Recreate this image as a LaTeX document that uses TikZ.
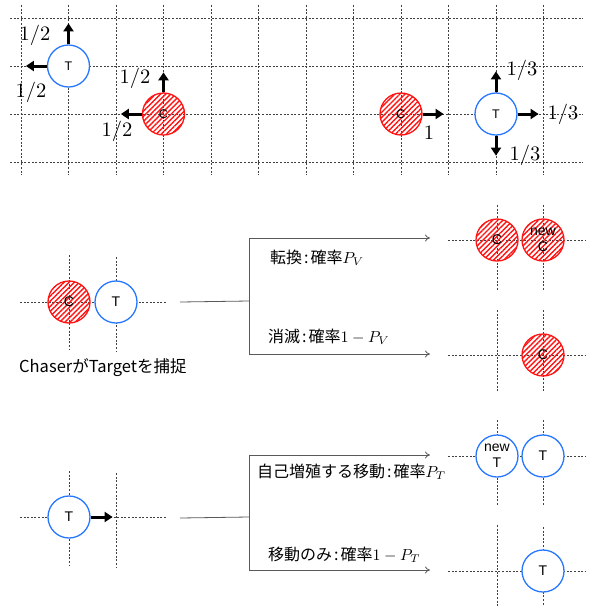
\documentclass[tikz,border=0pt]{standalone}
\usepackage{graphicx}
\usepackage{fontspec}
\setmainfont{Liberation Sans}
\newfontfamily\cjk{Noto Sans CJK JP}
\usetikzlibrary{arrows.meta,patterns.meta}
\definecolor{tblue}{RGB}{40,120,255}
\definecolor{cred}{RGB}{255,20,20}
\newcommand{\jcolon}{\hspace{2pt}:\hspace{2pt}}
\newcommand{\smath}[2]{\scalebox{#1}{\fontsize{10}{12}\selectfont$#2$}}
\tikzset{
  grid/.style={draw=black!75,line width=0.6pt,dash pattern=on 2pt off 1.6pt},
  tcirc/.style={circle,draw=tblue,line width=1.3pt,minimum size=42pt,inner sep=0pt,fill=white,font=\fontsize{14}{16}\selectfont,align=center},
  ccirc/.style={circle,draw=cred,line width=1.3pt,minimum size=42pt,inner sep=0pt,
     pattern={Lines[angle=45,distance=3.6pt,line width=1.4pt]},pattern color=cred,font=\fontsize{14}{16}\selectfont,align=center},
  bigarrow/.style={line width=3pt,-{Triangle[length=8pt,width=10pt]}},
  frac/.style={inner sep=0pt},
  brk/.style={draw=black!65,line width=0.8pt},
  brkarrow/.style={brk,-{To[length=5pt,width=7pt]}},
  jtext/.style={font=\cjk\fontsize{16}{18}\selectfont,anchor=west,inner sep=0pt},
}
\begin{document}
\begin{tikzpicture}[x=1pt,y=-1pt]
\useasboundingbox (0,0) rectangle (595,606);
% ---------- top grid ----------
\foreach \yy in {18,66,114,162} \draw[grid] (10,\yy) -- (583,\yy);
\foreach \xx in {21,68.5,116,163.5,211,258.5,306,353.5,401,448.5,496,543.5} \draw[grid] (\xx,5) -- (\xx,175);
\node[tcirc,font=\fontsize{12.5}{13}\selectfont] (t1) at (68.5,66) {T};
\node[ccirc,font=\fontsize{12.5}{13}\selectfont] (c1) at (163.5,114) {C};
\node[ccirc,font=\fontsize{12.5}{13}\selectfont] (c2) at (401,114) {C};
\node[tcirc,font=\fontsize{12.5}{13}\selectfont] (t2) at (496,114) {T};
\draw[bigarrow] (t1.north) -- ++(0,-21);
\draw[bigarrow] (t1.west) -- ++(-21,0);
\node[frac] (f1) at (35,35) {\smath{2.05}{1/2}};
\node[frac] (f2) at (31,92) {\smath{2.05}{1/2}};
\draw[bigarrow] (c1.north) -- ++(0,-20);
\draw[bigarrow] (c1.west) -- ++(-21,0);
\node[frac] (f3) at (135,78) {\smath{2.05}{1/2}};
\node[frac] (f4) at (117,131) {\smath{2.05}{1/2}};
\draw[bigarrow] (c2.east) -- ++(21,0);
\node[frac] (f5) at (429,133) {\smath{2.05}{1}};
\draw[bigarrow] (t2.north) -- ++(0,-21);
\draw[bigarrow] (t2.east) -- ++(21,0);
\draw[bigarrow] (t2.south) -- ++(0,20);
\node[frac] (f6) at (522,70) {\smath{2.05}{1/3}};
\node[frac] (f7) at (563,114) {\smath{2.05}{1/3}};
\node[frac] (f8) at (525,155) {\smath{2.05}{1/3}};
% ---------- middle ----------
\draw[grid] (20,302) -- (166,302);
\draw[grid] (69,255) -- (69,350);
\draw[grid] (116,257) -- (116,352);
\node[ccirc] (c3) at (69,302) {C};
\node[tcirc] (t3) at (116,302) {T};
\node[font=\cjk\fontsize{16.5}{18}\selectfont,anchor=west,inner sep=0pt] (cap) at (19,368) {ChaserがTargetを捕捉};
\coordinate (m0) at (180,302);
\coordinate (mj) at (249,301);
\coordinate (mt) at (249,238);
\coordinate (mb) at (249,354);
\coordinate (me1) at (430,238);
\coordinate (me2) at (430,354);
\draw[brk] (m0) -- (mj);
\draw[brk] (mt) -- (mb);
\draw[brkarrow] (mt) -- (me1);
\draw[brkarrow] (mb) -- (me2);
\node[jtext] (l1) at (270,258) {転換\jcolon 確率\smath{1.6}{P_V}};
\node[jtext] (l2) at (268,337) {消滅\jcolon 確率\smath{1.6}{1-P_V}};
\draw[grid] (448,240) -- (585,240);
\draw[grid] (497,205) -- (497,290);
\draw[grid] (543,205) -- (543,290);
\node[ccirc] (c4) at (497,240) {C};
\node[ccirc,font=\fontsize{14}{16}\selectfont] (c5) at (543,240) {new\\C};
\draw[grid] (448,355) -- (585,355);
\draw[grid] (497,310) -- (497,392);
\draw[grid] (543,310) -- (543,392);
\node[ccirc] (c6) at (543,355) {C};
% ---------- bottom ----------
\draw[grid] (20,517) -- (166,517);
\draw[grid] (69,471) -- (69,566);
\draw[grid] (116,473) -- (116,568);
\node[tcirc] (t4) at (69,517) {T};
\draw[bigarrow] (t4.east) -- ++(22,0);
\coordinate (b0) at (180,518);
\coordinate (bj) at (249,517);
\coordinate (bt) at (249,455);
\coordinate (bb) at (249,570);
\coordinate (be1) at (430,455);
\coordinate (be2) at (430,570);
\draw[brk] (b0) -- (bj);
\draw[brk] (bt) -- (bb);
\draw[brkarrow] (bt) -- (be1);
\draw[brkarrow] (bb) -- (be2);
\node[jtext] (l3) at (257,472) {自己増殖する移動\jcolon 確率\smath{1.6}{P_T}};
\node[jtext] (l4) at (268,555) {移動のみ\jcolon 確率\smath{1.6}{1-P_T}};
\draw[grid] (448,456) -- (585,456);
\draw[grid] (497,420) -- (497,505);
\draw[grid] (543,420) -- (543,505);
\node[tcirc,font=\fontsize{14}{16}\selectfont] (t5) at (497,456) {new\\T};
\node[tcirc] (t6) at (543,456) {T};
\draw[grid] (448,571) -- (585,571);
\draw[grid] (497,525) -- (497,606);
\draw[grid] (543,527) -- (543,606);
\node[tcirc] (t7) at (543,571) {T};
\end{tikzpicture}
\end{document}
